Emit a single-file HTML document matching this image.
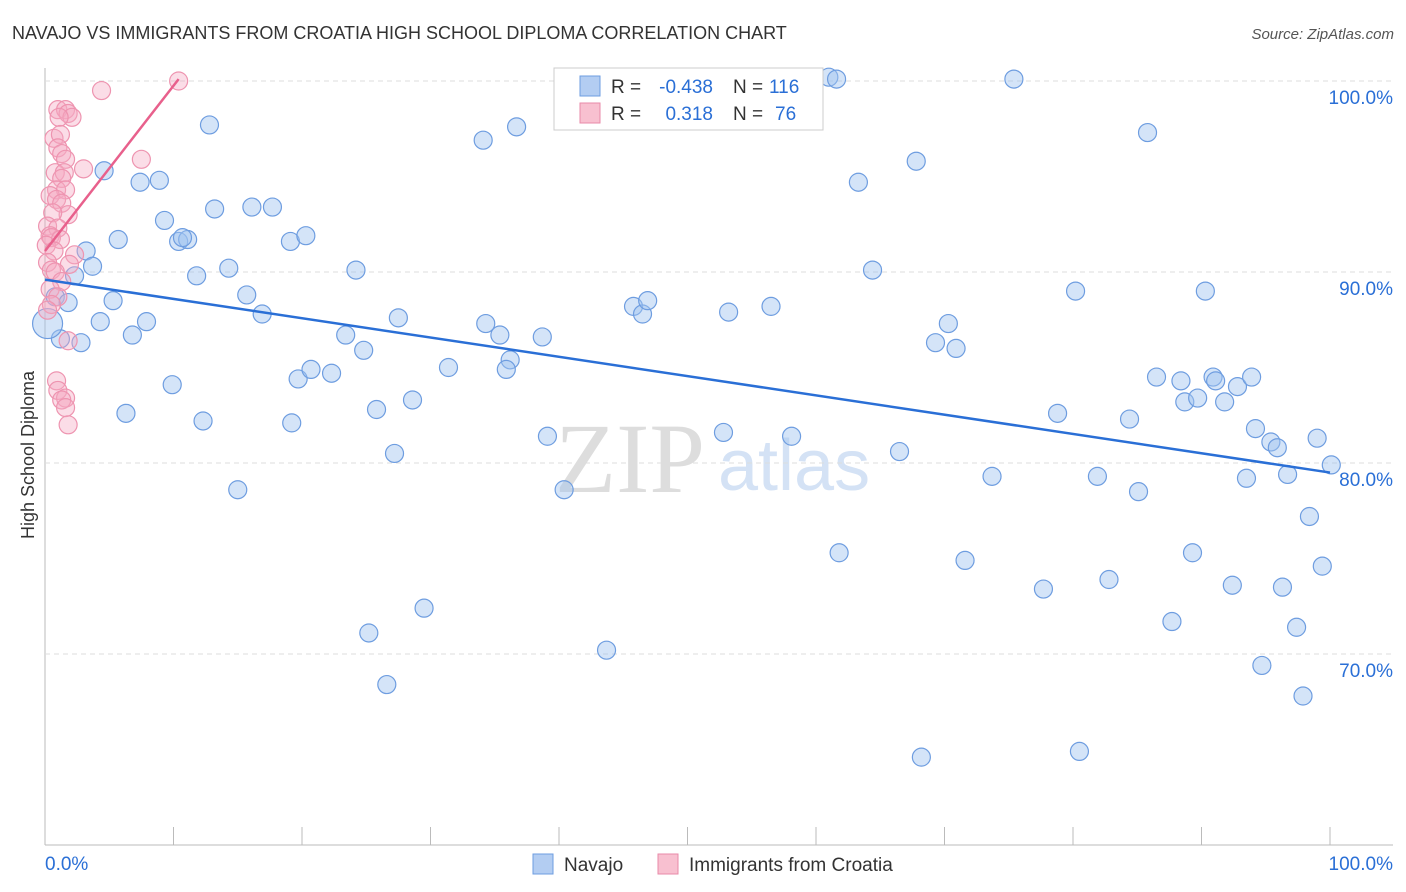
<!DOCTYPE html>
<html><head><meta charset="utf-8">
<style>
body{margin:0;background:#fff;font-family:"Liberation Sans",sans-serif;}
svg{display:block}
</style></head><body>
<svg id="chart" width="1406" height="892" xmlns="http://www.w3.org/2000/svg">
<text x="12" y="39" font-size="18" fill="#333">NAVAJO VS IMMIGRANTS FROM CROATIA HIGH SCHOOL DIPLOMA CORRELATION CHART</text>
<text x="1394" y="39" font-size="15" fill="#555" text-anchor="end" font-style="italic">Source: ZipAtlas.com</text>
<text x="34" y="455" font-size="18" fill="#333" text-anchor="middle" transform="rotate(-90 34 455)">High School Diploma</text>
<text x="555" y="492" font-size="100" fill="#ddd" font-family="Liberation Serif,serif">ZIP</text>
<text x="718" y="490" font-size="72" fill="#d4e2f5">atlas</text>
<g id="grid"></g><g id="marks"></g>
<g>
<rect x="554" y="68" width="269" height="62" fill="#fff" stroke="#ccc"/>
<rect x="580" y="76" width="20" height="20" fill="#b3cdf2" stroke="#6e9de0"/>
<rect x="580" y="103" width="20" height="20" fill="#f8c0d0" stroke="#e88aa8"/>
<text x="611" y="93" font-size="19" fill="#333">R =</text>
<text x="713" y="93" font-size="19" fill="#2a6fd6" text-anchor="end">-0.438</text>
<text x="733" y="93" font-size="19" fill="#333">N =</text>
<text x="769" y="93" font-size="19" fill="#2a6fd6">116</text>
<text x="611" y="120" font-size="19" fill="#333">R =</text>
<text x="713" y="120" font-size="19" fill="#2a6fd6" text-anchor="end">0.318</text>
<text x="733" y="120" font-size="19" fill="#333">N =</text>
<text x="775" y="120" font-size="19" fill="#2a6fd6">76</text>
</g>
<g>
<rect x="533" y="854" width="20" height="20" fill="#b3cdf2" stroke="#6e9de0"/>
<text x="564" y="871" font-size="19" fill="#333">Navajo</text>
<rect x="658" y="854" width="20" height="20" fill="#f8c0d0" stroke="#e88aa8"/>
<text x="689" y="871" font-size="19" fill="#333">Immigrants from Croatia</text>
</g>
</svg>
<script>
const xTicks=[0,10,20,30,40,50,60,70,80,90,100];
const yTicks=[70,80,90,100];
const blueX=[4.6,7.4,8.9,12.8,9.3,5.7,3.2,3.7,2.3,0.8,1.8,5.3,4.3,7.9,6.8,2.8,1.2,10.4,11.1,10.7,11.8,13.2,14.3,16.1,17.7,15.7,16.9,19.1,20.3,9.9,6.3,12.3,15.0,19.2,19.7,20.7,22.3,23.4,24.8,24.2,27.5,25.8,28.6,27.2,31.4,34.1,36.7,34.3,35.4,36.2,35.9,38.7,39.1,40.4,25.2,26.6,29.5,43.7,45.8,46.5,46.9,52.4,53.2,56.5,52.8,58.1,61.0,61.6,63.3,64.4,67.8,70.3,69.3,70.9,66.5,61.8,71.6,68.2,73.7,75.4,80.2,78.8,81.9,84.4,85.1,77.7,82.8,80.5,85.8,90.3,86.5,88.4,90.9,91.1,88.7,89.7,91.8,92.8,93.9,94.2,95.4,95.9,96.7,93.5,99.0,100.1,98.4,89.3,87.7,92.4,96.3,99.4,97.4,94.7,97.9,0.2];
const blueY=[95.3,94.7,94.8,97.7,92.7,91.7,91.1,90.3,89.8,88.7,88.4,88.5,87.4,87.4,86.7,86.3,86.5,91.6,91.7,91.8,89.8,93.3,90.2,93.4,93.4,88.8,87.8,91.6,91.9,84.1,82.6,82.2,78.6,82.1,84.4,84.9,84.7,86.7,85.9,90.1,87.6,82.8,83.3,80.5,85.0,96.9,97.6,87.3,86.7,85.4,84.9,86.6,81.4,78.6,71.1,68.4,72.4,70.2,88.2,87.8,88.5,100.1,87.9,88.2,81.6,81.4,100.2,100.1,94.7,90.1,95.8,87.3,86.3,86.0,80.6,75.3,74.9,64.6,79.3,100.1,89.0,82.6,79.3,82.3,78.5,73.4,73.9,64.9,97.3,89.0,84.5,84.3,84.5,84.3,83.2,83.4,83.2,84.0,84.5,81.8,81.1,80.8,79.4,79.2,81.3,79.9,77.2,75.3,71.7,73.6,73.5,74.6,71.4,69.4,67.8,87.3];
const pinkX=[10.4,4.4,1.0,1.6,1.8,2.1,1.1,0.7,1.2,1.0,1.3,1.6,7.5,3.0,0.8,1.5,1.3,0.9,1.6,0.4,0.9,1.3,1.8,0.6,0.2,1.0,0.4,0.5,1.2,0.1,0.7,2.3,0.2,1.9,0.5,0.8,1.3,0.4,1.0,0.5,0.2,1.8,0.9,1.0,1.6,1.3,1.6,1.8];
const pinkY=[100.0,99.5,98.5,98.5,98.3,98.1,98.1,97.0,97.2,96.5,96.2,95.9,95.9,95.4,95.2,95.2,94.9,94.3,94.3,94.0,93.8,93.6,93.0,93.1,92.4,92.3,91.9,91.8,91.7,91.4,91.1,90.9,90.5,90.4,90.1,90.0,89.5,89.1,88.7,88.3,88.0,86.4,84.3,83.8,83.4,83.3,82.9,82.0];
const blueTrend=[[0,89.6],[100,79.5]];
const pinkTrend=[[0,91.1],[10.4,100.1]];
const NS="http://www.w3.org/2000/svg";
const X0=45,X1=1330,Y100=81,PX10=191;
const sx=v=>X0+(X1-X0)*v/100;
const sy=v=>Y100+(100-v)*PX10/10;
function el(t,a,p){const e=document.createElementNS(NS,t);for(const k in a)e.setAttribute(k,a[k]);p.appendChild(e);return e;}
const grid=document.getElementById('grid'),marks=document.getElementById('marks');
const axisY=el('line',{x1:45,x2:45,y1:68,y2:845,stroke:'#bbb'},grid);


const axisX=el('line',{x1:45,x2:1393,y1:845,y2:845,stroke:'#bbb'},grid);


yTicks.forEach(t=>{
 const g=el('line',{x1:45,x2:1393,y1:sy(t),y2:sy(t),stroke:'#ddd','stroke-dasharray':'5,4'},grid);
 
 
 const tx=el('text',{x:1393,y:sy(t)+23,'font-size':19,fill:'#2a6fd6','text-anchor':'end'},grid);
 tx.textContent=t.toFixed(1)+'%';
 
 
});
xTicks.forEach(t=>{
 const l=el('line',{x1:sx(t),x2:sx(t),y1:827,y2:845,stroke:'#bbb'},grid);
 
 
});
[[0,'start',45],[100,'end',1393]].forEach(([t,a,x])=>{
 const tx=el('text',{x:x,y:870,'font-size':19,fill:'#2a6fd6','text-anchor':a},grid);
 tx.textContent=t.toFixed(1)+'%';
 
 
});
blueX.forEach((v,i)=>{
 const r=i===blueX.length-1?15:9;
 const c=el('circle',{cx:sx(v),cy:sy(blueY[i]),r:r,fill:'rgba(160,195,240,0.45)',stroke:'#6e9de0','stroke-width':1.2},marks);
 
 
});
pinkX.forEach((v,i)=>{
 const c=el('circle',{cx:sx(v),cy:sy(pinkY[i]),r:9,fill:'rgba(245,170,195,0.4)',stroke:'#ee94b0','stroke-width':1.2},marks);
 
 
});
const bl=el('line',{x1:sx(blueTrend[0][0]),y1:sy(blueTrend[0][1]),x2:sx(blueTrend[1][0]),y2:sy(blueTrend[1][1]),stroke:'#2a6fd6','stroke-width':2.5},marks);


const pl=el('line',{x1:sx(pinkTrend[0][0]),y1:sy(pinkTrend[0][1]),x2:sx(pinkTrend[1][0]),y2:sy(pinkTrend[1][1]),stroke:'#e8608c','stroke-width':2.5},marks);


</script>
</body></html>
